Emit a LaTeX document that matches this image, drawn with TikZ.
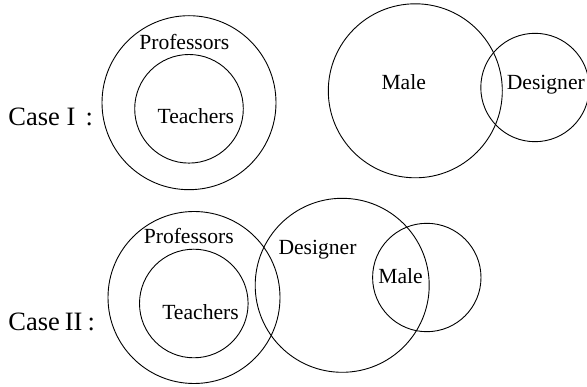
\documentclass[tikz,border=0pt]{standalone}
\usepackage{fontspec}
\setmainfont{Liberation Serif}
\begin{document}
\begin{tikzpicture}[x=1pt,y=-1pt,
  venn/.style={draw=black,line width=0.9pt},
  lbl/.style={anchor=base,inner sep=0pt,font=\fontsize{21.6}{24}\selectfont},
  case/.style={anchor=base west,inner sep=0pt,font=\fontsize{26.5}{30}\selectfont}]
\useasboundingbox (0,0) rectangle (587,387);
% Case I
\draw[venn] (189,102.7) circle (87pt);
\draw[venn] (189,108.8) circle (54.3pt);
\draw[venn] (415.3,90.8) circle (87pt);
\draw[venn] (535,87.5) circle (54.2pt);
\node[case] (case1) at (8.3,126) {Case I\hspace{0.38em}:};
\node[lbl] (prof1) at (184.3,49.3) {Professors};
\node[lbl] (teach1) at (195.8,124) {Teachers};
\node[lbl] (male1) at (403.7,89.3) {Male};
\node[lbl] (des1) at (545.8,89.3) {Designer};
% Case II
\draw[venn] (194,297.5) circle (86pt);
\draw[venn] (193.8,303.5) circle (54.3pt);
\draw[venn] (342.2,285.3) circle (87pt);
\draw[venn] (426.8,277.5) circle (54.2pt);
\node[case] (case2) at (8.3,330.7) {Case\hspace{0.18em}II\hspace{0.2em}:};
\node[lbl] (prof2) at (188.8,243.3) {Professors};
\node[lbl] (teach2) at (200.5,319.3) {Teachers};
\node[lbl] (des2) at (317.5,255) {Designer};
\node[lbl] (male2) at (400.5,283.3) {Male};
\end{tikzpicture}
\end{document}
